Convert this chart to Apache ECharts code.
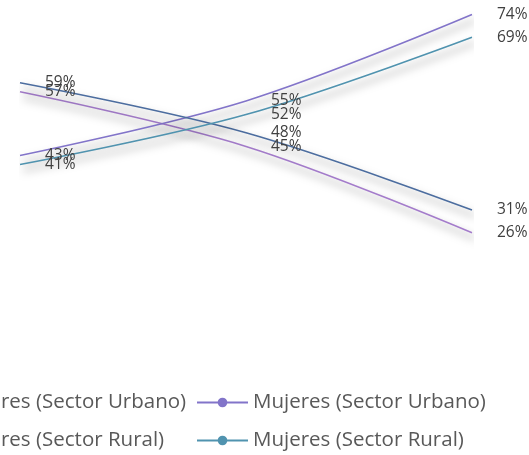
<!DOCTYPE html>
<html><head><meta charset="utf-8">
<script src="https://cdn.jsdelivr.net/npm/echarts@6/dist/echarts.min.js"></script>
<style>html,body{margin:0;padding:0;background:#fff}#c{width:529px;height:455px}</style>
</head><body><div id="c"></div>
<script>
const categories = ['Periodo 1', 'Periodo 2', 'Periodo 3'];
const hombresUrbano = [57, 45, 26];
const mujeresUrbano = [43, 55, 74];
const hombresRural = [59, 48, 31];
const mujeresRural = [41, 52, 69];
const seriesNames = ['Hombres (Sector Urbano)', 'Mujeres (Sector Urbano)', 'Hombres (Sector Rural)', 'Mujeres (Sector Rural)'];
const colors = ['#a47ccb', '#8274c9', '#4c6d9f', '#5093af'];

const chart = echarts.init(document.getElementById('c'));
const font = 'Open Sans';
function mk(name, data, color) {
  return {
    name, type: 'line', data, smooth: 0.35,
    symbol: 'circle', symbolSize: 0.01,
    itemStyle: { color },
    lineStyle: { color, width: 1.6, shadowColor: 'rgba(0,0,0,0.5)', shadowBlur: 9, shadowOffsetX: 3, shadowOffsetY: 6 },
    label: { show: true, position: 'right', distance: 25, color: '#404040', fontFamily: font, fontSize: 15.5, formatter: p => p.value + '%' },
    emphasis: { disabled: true }
  };
}
const legendCommon = {
  orient: 'vertical', top: 387, height: 120, itemWidth: 51, itemHeight: 12, itemGap: 17,
  textStyle: { color: '#595959', fontFamily: font, fontSize: 20.5 },
  lineStyle: { shadowBlur: 0, shadowColor: 'transparent', shadowOffsetX: 0, shadowOffsetY: 0, width: 2 }
};
chart.setOption({
  animation: false,
  grid: { left: 20, right: 57, top: 10, bottom: 104 },
  xAxis: { type: 'category', data: categories, boundaryGap: false, show: false },
  yAxis: { type: 'value', min: 0, max: 75, show: false },
  legend: [
    Object.assign({}, legendCommon, { left: -120, data: [seriesNames[0], seriesNames[2]] }),
    Object.assign({}, legendCommon, { left: 191, data: [seriesNames[1], seriesNames[3]] })
  ],
  series: [
    mk(seriesNames[0], hombresUrbano, colors[0]),
    mk(seriesNames[1], mujeresUrbano, colors[1]),
    mk(seriesNames[2], hombresRural, colors[2]),
    mk(seriesNames[3], mujeresRural, colors[3])
  ]
});
</script></body></html>
